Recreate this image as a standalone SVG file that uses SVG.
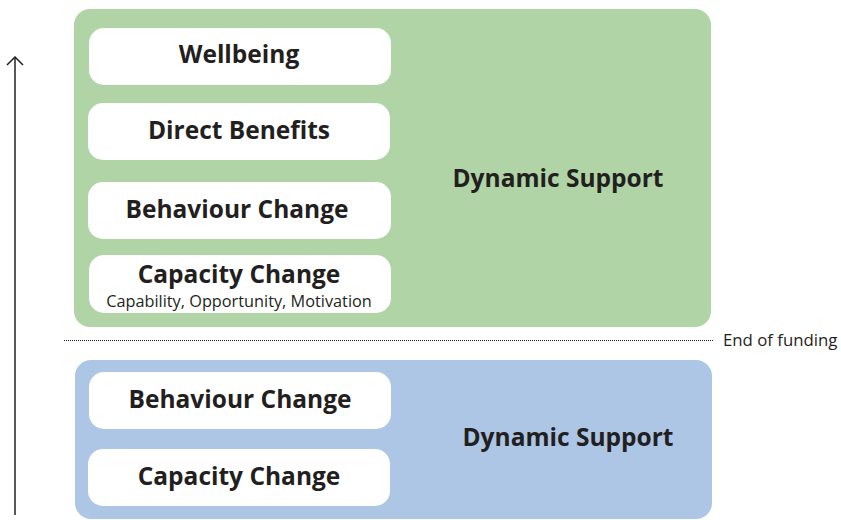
<svg xmlns="http://www.w3.org/2000/svg" width="841" height="520" viewBox="0 0 841 520">
<style>
.panel-g{fill:#b0d4a5}
.panel-b{fill:#adc6e6}
.box{fill:#ffffff}
.lbl{font-family:"Open Sans","Noto Sans",sans-serif;font-weight:700;font-size:24.5px;fill:#231f20;text-anchor:middle}
.sub{font-family:"Open Sans","Noto Sans",sans-serif;font-weight:400;font-size:16.3px;fill:#231f20;text-anchor:middle}
.note{font-family:"Open Sans","Noto Sans",sans-serif;font-weight:400;font-size:16.8px;fill:#231f20}
.line{stroke:#231f20;stroke-width:1.5;fill:none}
</style>
<defs>
<marker id="open" viewBox="0 0 10 18" refX="9" refY="9" markerWidth="10" markerHeight="18" markerUnits="userSpaceOnUse" orient="auto">
<path d="M1,1 L9,9 L1,17" fill="none" stroke="#231f20" stroke-width="1.5"/>
</marker>
</defs>
<g id="funded-panel">
<rect class="panel-g" x="74" y="9" width="637" height="318" rx="16"/>
<text class="lbl" x="558" y="187">Dynamic Support</text>
</g>
<g id="wellbeing"><rect class="box" x="89" y="28" width="302" height="57" rx="15"/><text class="lbl" x="239" y="63">Wellbeing</text></g>
<g id="direct-benefits"><rect class="box" x="88" y="103" width="302" height="57" rx="15"/><text class="lbl" x="239" y="139">Direct Benefits</text></g>
<g id="behaviour-change-1"><rect class="box" x="88" y="182" width="303" height="57" rx="15"/><text class="lbl" x="237" y="218">Behaviour Change</text></g>
<g id="capacity-change-1"><rect class="box" x="89" y="255" width="302" height="58" rx="15"/><text class="lbl" x="239" y="283">Capacity Change</text><text class="sub" x="239" y="307">Capability, Opportunity, Motivation</text></g>
<g id="post-panel">
<rect class="panel-b" x="75" y="360" width="637" height="159" rx="16"/>
<text class="lbl" x="568" y="446">Dynamic Support</text>
</g>
<g id="behaviour-change-2"><rect class="box" x="89" y="372" width="302" height="57" rx="15"/><text class="lbl" x="240" y="408">Behaviour Change</text></g>
<g id="capacity-change-2"><rect class="box" x="88" y="449" width="302" height="57" rx="15"/><text class="lbl" x="239" y="485">Capacity Change</text></g>
<g id="connectors">
<line class="line" x1="15" y1="515" x2="15" y2="57" marker-end="url(#open)"/>
<line x1="64" y1="340.5" x2="713" y2="340.5" stroke="#231f20" stroke-width="1.2" stroke-dasharray="1 1"/>
<text class="note" x="723" y="346">End of funding</text>
</g>
</svg>
